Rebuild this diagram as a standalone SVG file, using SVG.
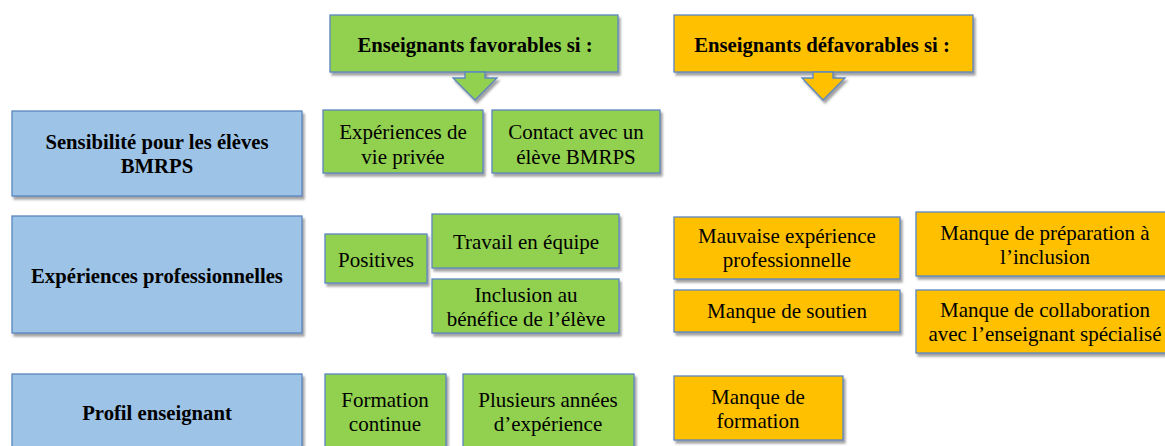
<svg xmlns="http://www.w3.org/2000/svg" width="1165" height="446" viewBox="0 0 1165 446" font-family="'Liberation Serif', 'Times New Roman', serif">
<defs>
<filter id="sh" x="-5%" y="-10%" width="115%" height="130%">
<feDropShadow dx="2" dy="3" stdDeviation="1" flood-color="#555" flood-opacity="0.55"/>
</filter>
<style>
.g{fill:#92D050;stroke:#5B86C0;stroke-width:1.3;filter:url(#sh)}
.o{fill:#FFC000;stroke:#5B86C0;stroke-width:1.3;filter:url(#sh)}
.b{fill:#9DC3E6;stroke:#5B86C0;stroke-width:1.3;filter:url(#sh)}
text{fill:#000;text-anchor:middle}
.t{font-size:21px}
.h{font-size:20.7px;font-weight:bold}
</style>
</defs>
<rect width="1165" height="446" fill="#fff"/>
<g id="hdr-fav"><rect class="g" x="330" y="15" width="288" height="57"/><text class="h" x="475" y="52">Enseignants favorables si :</text></g>
<g id="hdr-defav"><rect class="o" x="674" y="15" width="299" height="57"/><text class="h" x="822" y="52">Enseignants défavorables si :</text></g>
<g id="connectors">
<polygon class="g" points="465,72 465,78 453,78 475,100 497,78 485,78 485,72"/>
<polygon class="o" points="813,72 813,78 802,78 823,100 845,78 833,78 833,72"/>
</g>
<g id="cat-sens"><rect class="b" x="12" y="111" width="290" height="85"/><text class="h" x="157" y="149">Sensibilité pour les élèves</text><text class="h" x="157" y="173">BMRPS</text></g>
<g id="cat-exp"><rect class="b" x="12" y="216" width="290" height="117"/><text class="h" x="157" y="283">Expériences professionnelles</text></g>
<g id="cat-prof"><rect class="b" x="12" y="374" width="290" height="80"/><text class="h" x="157" y="420">Profil enseignant</text></g>
<g id="f-vie"><rect class="g" x="323" y="110" width="160" height="63"/><text class="t" x="403" y="139">Expériences de</text><text class="t" x="403" y="164">vie privée</text></g>
<g id="f-contact"><rect class="g" x="492" y="110" width="168" height="63"/><text class="t" x="576" y="139">Contact avec un</text><text class="t" x="576" y="164">élève BMRPS</text></g>
<g id="f-pos"><rect class="g" x="325" y="234" width="102" height="49"/><text class="t" x="376" y="267">Positives</text></g>
<g id="f-travail"><rect class="g" x="432" y="214" width="187" height="54"/><text class="t" x="526" y="249">Travail en équipe</text></g>
<g id="f-inclusion"><rect class="g" x="432" y="279" width="187" height="54"/><text class="t" x="526" y="302">Inclusion au</text><text class="t" x="526" y="326">bénéfice de l’élève</text></g>
<g id="d-mauvaise"><rect class="o" x="674" y="217" width="226" height="62"/><text class="t" x="787" y="243">Mauvaise expérience</text><text class="t" x="787" y="267">professionnelle</text></g>
<g id="d-soutien"><rect class="o" x="674" y="290" width="226" height="42"/><text class="t" x="787" y="318">Manque de soutien</text></g>
<g id="d-prep"><rect class="o" x="916" y="212" width="260" height="64"/><text class="t" x="1045" y="240">Manque de préparation à</text><text class="t" x="1045" y="264">l’inclusion</text></g>
<g id="d-collab"><rect class="o" x="916" y="290" width="260" height="63"/><text class="t" x="1045" y="317">Manque de collaboration</text><text class="t" x="1045" y="341">avec l’enseignant spécialisé</text></g>
<g id="f-formation"><rect class="g" x="325" y="374" width="121" height="80"/><text class="t" x="385" y="407">Formation</text><text class="t" x="385" y="431">continue</text></g>
<g id="f-annees"><rect class="g" x="463" y="374" width="171" height="80"/><text class="t" x="548" y="407">Plusieurs années</text><text class="t" x="548" y="431">d’expérience</text></g>
<g id="d-formation"><rect class="o" x="674" y="376" width="169" height="64"/><text class="t" x="758" y="404">Manque de</text><text class="t" x="758" y="428">formation</text></g>
</svg>
